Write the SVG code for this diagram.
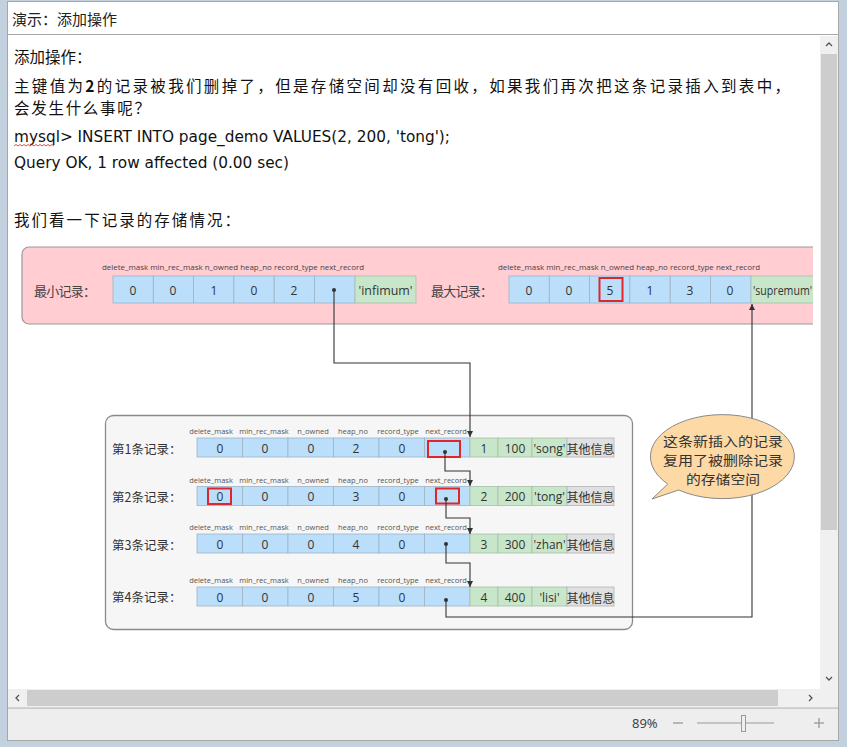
<svg xmlns="http://www.w3.org/2000/svg" xmlns:xlink="http://www.w3.org/1999/xlink" width="847" height="747" viewBox="0 0 847 747">
<style>
.p{font-family:"Noto Sans CJK SC",sans-serif;font-size:15.5px;fill:#111}
.en{font-family:"DejaVu Sans","Liberation Sans",sans-serif;font-size:15px;fill:#111}
.hdr{font-family:"Open Sans","Liberation Sans",sans-serif;font-size:7.5px;fill:#555;text-anchor:middle}
.hdr2{font-family:"Open Sans","Liberation Sans",sans-serif;font-size:8px;fill:#444}
.val{font-family:"Open Sans","Liberation Sans",sans-serif;font-size:12px;fill:#333;text-anchor:middle;dominant-baseline:central}
.cv{font-family:"Noto Sans CJK SC",sans-serif;font-size:12px;fill:#333;text-anchor:middle;dominant-baseline:central}
.lbl{font-family:"Noto Sans CJK SC",sans-serif;font-size:12.5px;fill:#333;dominant-baseline:central}
.blue{fill:#bbdefb;stroke:#9fb3c4;stroke-width:0.8}
.green{fill:#c8e6c9;stroke:#a9bfaa;stroke-width:0.8}
.grey{fill:#e0e0e0;stroke:#b5b5b5;stroke-width:0.8}
.red{fill:none;stroke:#e0262a;stroke-width:2}
.conn{fill:none;stroke:#333;stroke-width:1.1}
.ui{font-family:"Noto Sans","Liberation Sans",sans-serif;fill:#444}
.co{font-family:"Noto Sans CJK SC",sans-serif;font-size:13px;fill:#333;text-anchor:middle}
</style>
<defs>
<marker id="ah" markerWidth="6" markerHeight="6" refX="6" refY="3" orient="auto" markerUnits="userSpaceOnUse">
<path d="M0,0 L6,3 L0,6 z" fill="#333"/>
</marker>
<clipPath id="content"><rect x="8" y="36" width="805" height="652"/></clipPath>
<g id="rowcells">
<rect class="blue" x="197" y="0" width="45.5" height="19"/>
<rect class="blue" x="242.5" y="0" width="45.5" height="19"/>
<rect class="blue" x="288" y="0" width="45.5" height="19"/>
<rect class="blue" x="333.5" y="0" width="45.5" height="19"/>
<rect class="blue" x="379" y="0" width="45.5" height="19"/>
<rect class="blue" x="424.5" y="0" width="45.5" height="19"/>
<rect class="green" x="470" y="0" width="28" height="19"/>
<rect class="green" x="498" y="0" width="34" height="19"/>
<rect class="green" x="532" y="0" width="35" height="19"/>
<rect class="grey" x="567" y="0" width="47" height="19"/>
<text class="hdr" x="211" y="-4">delete_mask</text>
<text class="hdr" x="264" y="-4">min_rec_mask</text>
<text class="hdr" x="313" y="-4">n_owned</text>
<text class="hdr" x="353" y="-4">heap_no</text>
<text class="hdr" x="398" y="-4">record_type</text>
<text class="hdr" x="446" y="-4">next_record</text>
</g>
<g id="pinkcells">
<rect class="blue" x="0" y="0" width="40.3" height="27"/>
<rect class="blue" x="40.3" y="0" width="40.3" height="27"/>
<rect class="blue" x="80.6" y="0" width="40.3" height="27"/>
<rect class="blue" x="120.9" y="0" width="40.3" height="27"/>
<rect class="blue" x="161.2" y="0" width="40.3" height="27"/>
<rect class="blue" x="201.5" y="0" width="40.5" height="27"/>
</g>
</defs>

<!-- window frame -->
<rect x="0" y="0" width="847" height="747" fill="#c3d0dd"/>
<rect x="7.5" y="1.5" width="831" height="739" fill="#ffffff" stroke="#a8a8a8"/>
<line x1="8" y1="34.5" x2="838" y2="34.5" stroke="#a8a8a8"/>
<text x="12" y="25" style="font-family:'Noto Sans CJK SC',sans-serif;font-size:15px;fill:#222">演示：添加操作</text>

<!-- content text -->
<g clip-path="url(#content)">
<text class="p" x="14" y="63">添加操作：</text>
<text class="p" x="14" y="92" textLength="776" lengthAdjust="spacing">主键值为<tspan style="font-weight:bold">2</tspan>的记录被我们删掉了，但是存储空间却没有回收，如果我们再次把这条记录插入到表中，</text>
<text class="p" x="14" y="114" textLength="136" lengthAdjust="spacing">会发生什么事呢？</text>
<text class="en" x="14" y="142" textLength="436" lengthAdjust="spacingAndGlyphs">mysql&gt; INSERT INTO page_demo VALUES(2, 200, 'tong');</text>
<path d="M14,146 l2,-1.5 l2,1.5 l2,-1.5 l2,1.5 l2,-1.5 l2,1.5 l2,-1.5 l2,1.5 l2,-1.5 l2,1.5 l2,-1.5 l2,1.5 l2,-1.5 l2,1.5 l2,-1.5 l2,1.5 l2,-1.5 l2,1.5 l2,-1.5 l2,1.5" fill="none" stroke="#e02020" stroke-width="0.8"/>
<text class="en" x="14" y="168" textLength="275" lengthAdjust="spacingAndGlyphs">Query OK, 1 row affected (0.00 sec)</text>
<text class="p" x="14" y="226" textLength="226" lengthAdjust="spacing">我们看一下记录的存储情况：</text>

<!-- pink box -->
<g id="pinkbox">
<rect x="22" y="247" width="810" height="77" rx="7" fill="#ffcdd2" stroke="#9a9a9a" stroke-width="1.2"/>
</g>
<g id="infimum">
<text class="lbl" x="34" y="290" style="font-size:13px;fill:#444" textLength="62" lengthAdjust="spacing">最小记录：</text>
<text class="hdr2" x="102" y="270" textLength="262" lengthAdjust="spacingAndGlyphs">delete_mask min_rec_mask n_owned heap_no record_type next_record</text>
<use xlink:href="#pinkcells" x="113" y="276"/>
<rect class="green" x="355" y="276" width="61" height="27"/>
<text class="val" x="133" y="290">0</text>
<text class="val" x="173" y="290">0</text>
<text class="val" x="214" y="290">1</text>
<text class="val" x="254" y="290">0</text>
<text class="val" x="294" y="290">2</text>
<text class="val" x="385.5" y="290" textLength="54" lengthAdjust="spacingAndGlyphs">'infimum'</text>
</g>
<g id="supremum">
<text class="lbl" x="431" y="290" style="font-size:13px;fill:#444" textLength="62" lengthAdjust="spacing">最大记录：</text>
<text class="hdr2" x="498" y="270" textLength="262" lengthAdjust="spacingAndGlyphs">delete_mask min_rec_mask n_owned heap_no record_type next_record</text>
<use xlink:href="#pinkcells" x="509" y="276"/>
<rect class="green" x="751" y="276" width="70" height="27"/>
<text class="val" x="529" y="290">0</text>
<text class="val" x="569" y="290">0</text>
<text class="val" x="610" y="290">5</text>
<rect class="red" x="599.5" y="278" width="23" height="23"/>
<text class="val" x="650" y="290">1</text>
<text class="val" x="690" y="290">3</text>
<text class="val" x="730" y="290">0</text>
<text class="val" x="753" y="290" style="text-anchor:start" textLength="59" lengthAdjust="spacingAndGlyphs">'supremum'</text>
</g>

<!-- record box -->
<g id="recordbox">
<rect x="105.5" y="415.5" width="527" height="214" rx="8" fill="#f6f6f6" stroke="#8a8a8a" stroke-width="1.3"/>
</g>
<g id="rec1">
<text class="lbl" x="112" y="448">第1条记录：</text>
<use xlink:href="#rowcells" y="438"/>
<text class="val" x="220" y="448">0</text><text class="val" x="265" y="448">0</text><text class="val" x="311" y="448">0</text><text class="val" x="356" y="448">2</text><text class="val" x="402" y="448">0</text>
<rect class="red" x="428" y="441" width="32" height="16"/>
<text class="val" x="484" y="448">1</text><text class="val" x="515" y="448">100</text><text class="val" x="549.5" y="448" textLength="32" lengthAdjust="spacingAndGlyphs">'song'</text><text class="cv" x="590.5" y="448">其他信息</text>
</g>
<g id="rec2">
<text class="lbl" x="112" y="496">第2条记录：</text>
<use xlink:href="#rowcells" y="486.5"/>
<text class="val" x="220" y="496">0</text><text class="val" x="265" y="496">0</text><text class="val" x="311" y="496">0</text><text class="val" x="356" y="496">3</text><text class="val" x="402" y="496">0</text>
<rect class="red" x="208" y="488.5" width="23" height="15.5"/>
<rect class="red" x="436" y="488.5" width="23" height="15"/>
<text class="val" x="484" y="496">2</text><text class="val" x="515" y="496">200</text><text class="val" x="549.5" y="496" textLength="31" lengthAdjust="spacingAndGlyphs">'tong'</text><text class="cv" x="590.5" y="496">其他信息</text>
</g>
<g id="rec3">
<text class="lbl" x="112" y="544">第3条记录：</text>
<use xlink:href="#rowcells" y="534"/>
<text class="val" x="220" y="544">0</text><text class="val" x="265" y="544">0</text><text class="val" x="311" y="544">0</text><text class="val" x="356" y="544">4</text><text class="val" x="402" y="544">0</text>
<text class="val" x="484" y="544">3</text><text class="val" x="515" y="544">300</text><text class="val" x="549.5" y="544" textLength="32" lengthAdjust="spacingAndGlyphs">'zhan'</text><text class="cv" x="590.5" y="544">其他信息</text>
</g>
<g id="rec4">
<text class="lbl" x="112" y="596">第4条记录：</text>
<use xlink:href="#rowcells" y="587"/>
<text class="val" x="220" y="597">0</text><text class="val" x="265" y="597">0</text><text class="val" x="311" y="597">0</text><text class="val" x="356" y="597">5</text><text class="val" x="402" y="597">0</text>
<text class="val" x="484" y="597">4</text><text class="val" x="515" y="597">400</text><text class="val" x="549.5" y="597">'lisi'</text><text class="cv" x="590.5" y="597">其他信息</text>
</g>

<!-- connectors -->
<g id="connectors">
<circle cx="334" cy="290" r="2" fill="#333"/>
<path class="conn" d="M334,290 V363 H470 V437" marker-end="url(#ah)"/>
<circle cx="445" cy="452" r="2" fill="#333"/>
<path class="conn" d="M445,452 V471 H470 V486" marker-end="url(#ah)"/>
<circle cx="446" cy="499" r="2" fill="#333"/>
<path class="conn" d="M446,499 V518 H470 V534" marker-end="url(#ah)"/>
<circle cx="446" cy="544" r="2" fill="#333"/>
<path class="conn" d="M446,544 V563 H470 V587" marker-end="url(#ah)"/>
<circle cx="446" cy="600" r="2" fill="#333"/>
<path class="conn" d="M446,600 V617 H752 V304" marker-end="url(#ah)"/>
</g>

<!-- callout -->
<g id="callout">
<path d="M678.7,490 A72,42 0 1 0 667.8,484 L652,499 Z" fill="#fdd9a6" stroke="#8a8a8a" stroke-width="1"/>
<text class="co" x="723" y="446" textLength="120" lengthAdjust="spacingAndGlyphs">这条新插入的记录</text>
<text class="co" x="723" y="465" textLength="120" lengthAdjust="spacingAndGlyphs">复用了被删除记录</text>
<text class="co" x="723" y="484" textLength="74" lengthAdjust="spacingAndGlyphs">的存储空间</text>
</g>
</g>

<!-- vertical scrollbar -->
<rect x="820" y="36" width="18" height="653" fill="#f0f0f0"/>
<rect x="821" y="54" width="16" height="476" fill="#cdcdcd"/>
<path d="M826,46 l3,-3 l3,3" fill="none" stroke="#555" stroke-width="1.3"/>
<path d="M826,677 l3,3 l3,-3" fill="none" stroke="#555" stroke-width="1.3"/>
<!-- horizontal scrollbar -->
<rect x="8" y="689" width="830" height="18" fill="#f0f0f0"/>
<rect x="27" y="690" width="751" height="16" fill="#cdcdcd"/>
<path d="M19,695 l-3,3 l3,3" fill="none" stroke="#555" stroke-width="1.3"/>
<path d="M809,695 l3,3 l-3,3" fill="none" stroke="#555" stroke-width="1.3"/>
<!-- status bar -->
<rect x="8" y="708" width="830" height="32" fill="#eeeeee"/>
<line x1="8" y1="708" x2="838" y2="708" stroke="#a8a8a8"/>
<text class="ui" x="632" y="728" style="font-size:13px">89%</text>
<line x1="673" y1="723" x2="683" y2="723" stroke="#999" stroke-width="1.3"/>
<line x1="697" y1="723" x2="774" y2="723" stroke="#999"/>
<rect x="741.5" y="715.5" width="4" height="16" fill="#eee" stroke="#999"/>
<line x1="814" y1="723" x2="824" y2="723" stroke="#999" stroke-width="1.3"/>
<line x1="819" y1="718" x2="819" y2="728" stroke="#999" stroke-width="1.3"/>
</svg>
